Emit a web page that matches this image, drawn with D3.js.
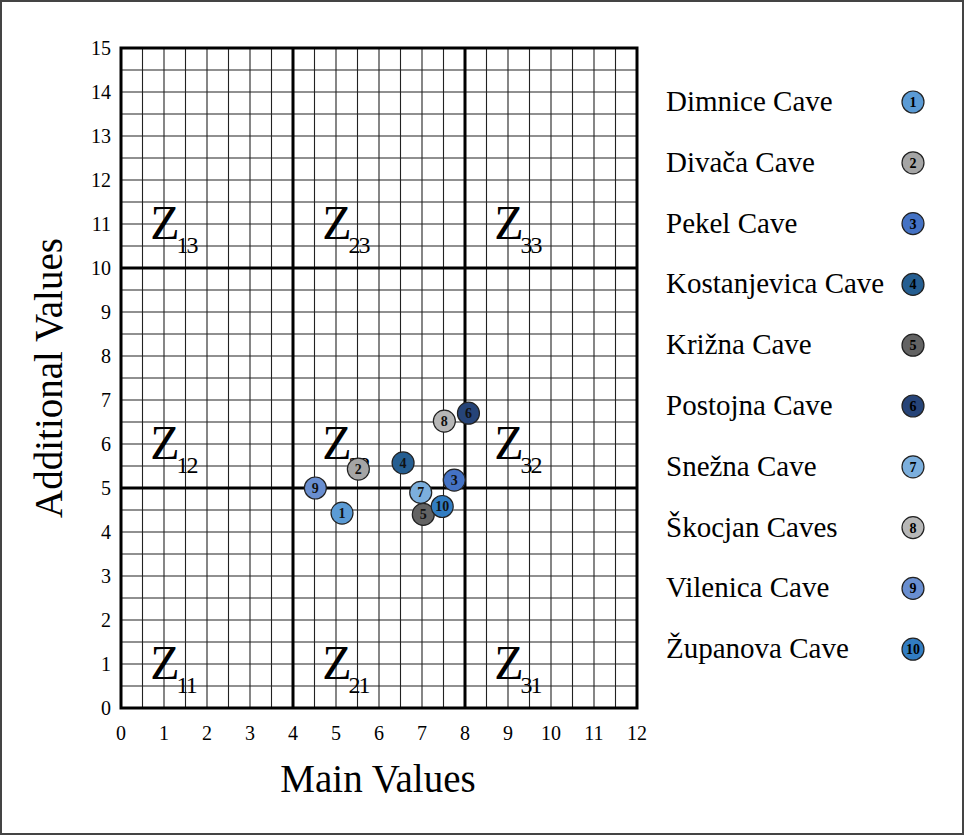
<!DOCTYPE html>
<html>
<head>
<meta charset="utf-8">
<script src="https://cdn.jsdelivr.net/npm/d3@7"></script>
<style>
  body { margin: 0; background: #fff; }
  text { font-family: "Liberation Serif", "Times New Roman", serif; }
</style>
</head>
<body>
<svg id="chart" width="965" height="837"></svg>
<script>
// cave names, in legend order
var caves = ["Dimnice Cave", "Divača Cave", "Pekel Cave", "Kostanjevica Cave", "Križna Cave",
             "Postojna Cave", "Snežna Cave", "Škocjan Caves", "Vilenica Cave", "Županova Cave"];
// main values (x) and additional values (y)
var mainValues = [5.14, 5.52, 7.75, 6.56, 7.03, 8.08, 6.97, 7.52, 4.52, 7.47];
var additionalValues = [4.43, 5.43, 5.18, 5.57, 4.40, 6.70, 4.90, 6.52, 5.00, 4.58];
var caveColors = ["#5b9bd5", "#a5a5a5", "#4472c4", "#255e91", "#636363",
                  "#264478", "#7cafdd", "#b7b7b7", "#698ed0", "#327dc2"];

var xTicks = [0, 1, 2, 3, 4, 5, 6, 7, 8, 9, 10, 11, 12];
var yTicks = [0, 1, 2, 3, 4, 5, 6, 7, 8, 9, 10, 11, 12, 13, 14, 15];
var xBreaks = [4, 8];
var yBreaks = [5, 10];
// zone labels: column, row
var zones = [[1,1],[1,2],[1,3],[2,1],[2,2],[2,3],[3,1],[3,2],[3,3]];

var svg = d3.select("#chart");

// outer frame
svg.append("rect")
    .attr("x", 1).attr("y", 1)
    .attr("width", 962).attr("height", 833)
    .attr("fill", "#fff")
    .attr("stroke", "#444")
    .attr("stroke-width", 2);

var plotLeft = 121, plotRight = 637, plotTop = 48, plotBottom = 708;
var x = d3.scaleLinear().domain([0, 12]).range([plotLeft, plotRight]);
var y = d3.scaleLinear().domain([0, 15]).range([plotBottom, plotTop]);

var grid = svg.append("g");

/*
minor grid, every half unit
 */
grid.selectAll("line.vx")
    .data(d3.range(0, 12.01, 0.5))
    .join("line")
    .attr("x1", d => x(d)).attr("x2", d => x(d))
    .attr("y1", plotTop).attr("y2", plotBottom)
    .attr("stroke", "#222").attr("stroke-width", 1.1);

grid.selectAll("line.hy")
    .data(d3.range(0, 15.01, 0.5))
    .join("line")
    .attr("y1", d => y(d)).attr("y2", d => y(d))
    .attr("x1", plotLeft).attr("x2", plotRight)
    .attr("stroke", "#222").attr("stroke-width", 1.1);

// zone borders
grid.selectAll("line.bx")
    .data(xBreaks)
    .join("line")
    .attr("x1", d => x(d)).attr("x2", d => x(d))
    .attr("y1", plotTop).attr("y2", plotBottom)
    .attr("stroke", "#000").attr("stroke-width", 3);

grid.selectAll("line.by")
    .data(yBreaks)
    .join("line")
    .attr("y1", d => y(d)).attr("y2", d => y(d))
    .attr("x1", plotLeft).attr("x2", plotRight)
    .attr("stroke", "#000").attr("stroke-width", 3);

grid.append("rect")
    .attr("x", plotLeft).attr("y", plotTop)
    .attr("width", plotRight - plotLeft).attr("height", plotBottom - plotTop)
    .attr("fill", "none")
    .attr("stroke", "#000").attr("stroke-width", 3);

// zone labels
var zl = svg.append("g").selectAll("text")
    .data(zones)
    .join("text")
    .attr("x", d => x((d[0] - 1) * 4 + 0.68))
    .attr("y", d => y((d[1] - 1) * 5 + 0.66))
    .attr("font-size", 48)
    .attr("fill", "#000");
zl.append("tspan").text("Z");
zl.append("tspan")
    .attr("font-size", 24)
    .attr("dx", -3)
    .attr("dy", 14)
    .attr("letter-spacing", -2)
    .text(d => "" + d[0] + d[1]);

// tick labels
svg.append("g").selectAll("text")
    .data(xTicks)
    .join("text")
    .attr("x", d => x(d))
    .attr("y", 740)
    .attr("text-anchor", "middle")
    .attr("font-size", 20)
    .text(d => d);

svg.append("g").selectAll("text")
    .data(yTicks)
    .join("text")
    .attr("x", 111)
    .attr("y", d => y(d) + 7)
    .attr("text-anchor", "end")
    .attr("font-size", 20)
    .text(d => d);

// axis titles
svg.append("text")
    .attr("x", x(6) - 1).attr("y", 792)
    .attr("text-anchor", "middle")
    .attr("font-size", 39)
    .text("Main Values");

svg.append("text")
    .attr("transform", "translate(62," + y(7.5) + ") rotate(-90)")
    .attr("text-anchor", "middle")
    .attr("font-size", 39)
    .text("Additional Values");

// points
var pts = svg.append("g").selectAll("g")
    .data(caves)
    .join("g")
    .attr("transform", (d, i) => "translate(" + x(mainValues[i]) + "," + y(additionalValues[i]) + ")");

pts.append("circle")
    .attr("r", 11)
    .attr("fill", (d, i) => caveColors[i])
    .attr("stroke", "#222").attr("stroke-width", 1.2);

pts.append("text")
    .attr("text-anchor", "middle")
    .attr("y", 5)
    .attr("font-size", 14)
    .attr("font-weight", "bold")
    .attr("fill", "#111")
    .text((d, i) => i + 1);

// legend
var lg = svg.append("g").selectAll("g")
    .data(caves)
    .join("g")
    .attr("transform", (d, i) => "translate(0," + (102 + i * 60.8) + ")");

lg.append("text")
    .attr("x", 666).attr("y", 9)
    .attr("font-size", 29)
    .text(d => d);

lg.append("circle")
    .attr("cx", 913)
    .attr("r", 11)
    .attr("fill", (d, i) => caveColors[i])
    .attr("stroke", "#222").attr("stroke-width", 1.2);

lg.append("text")
    .attr("x", 913).attr("y", 5)
    .attr("text-anchor", "middle")
    .attr("font-size", 14)
    .attr("font-weight", "bold")
    .text((d, i) => i + 1);
</script>
</body>
</html>
